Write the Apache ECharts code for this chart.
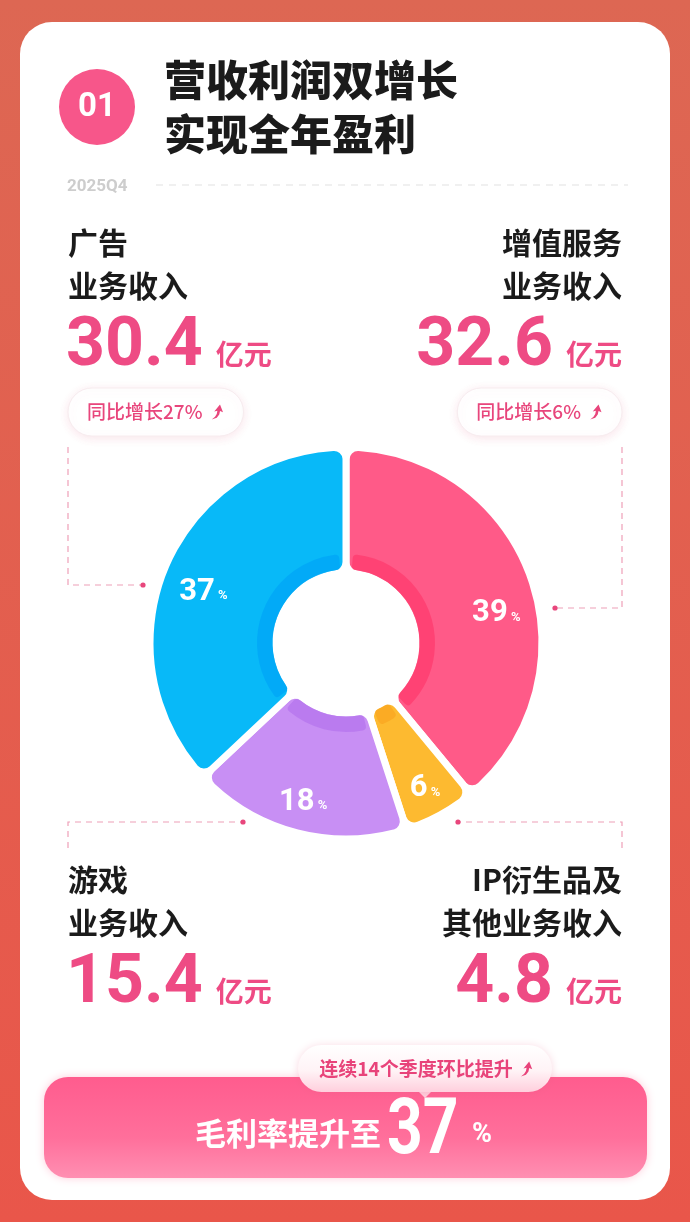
<!DOCTYPE html>
<html><head><meta charset="utf-8">
<script src="https://cdn.jsdelivr.net/npm/echarts@6/dist/echarts.min.js"></script>
<style>html,body{margin:0;padding:0;background:#e35f4e;}#c{width:690px;height:1222px;}</style>
</head><body><div id="c"></div>
<script>
// ---- data ----
const categories = ['增值服务业务收入', 'IP衍生品及其他业务收入', '游戏业务收入', '广告业务收入'];
const revenue = [32.6, 4.8, 15.4, 30.4];          // 亿元
const share = [39, 6, 18, 37];                     // % of revenue
const yoyGrowth = ['6%', null, null, '27%'];
const period = '2025Q4';
const grossMargin = 37;
const qoqStreak = 14;
const titleLines = ['营收利润双增长', '实现全年盈利'];
const blockLines = [['增值服务', '业务收入'], ['IP衍生品及', '其他业务收入'], ['游戏', '业务收入'], ['广告', '业务收入']];
const unit = '亿元';

// ---- style ----
const colors = ['#ff5a88', '#fdba30', '#c88ff4', '#08b9f8'];
const bandColors = ['#ff3b6d', '#f9a620', '#b574ee', '#00a6f7'];
const PINK = '#ee4b84';
const CJK = '"Noto Sans CJK SC", sans-serif';
const NUM = 'Roboto, "Noto Sans", sans-serif';
const ARROW_PTS = [[7.6, 0], [10, 6.2], [7.6, 5.2], [7.0, 8.0], [5.0, 10.6], [1, 12], [3.6, 9.8], [5.0, 7.5], [5.5, 5.0], [3, 5.6]];

const mctx = document.createElement('canvas').getContext('2d');
function tw(text, font) { mctx.font = font; return mctx.measureText(text).width; }

const g = [];
function arrow(x, y, color, z, s) {
  g.push({ type: 'polygon', z, shape: { points: ARROW_PTS.map(p => [x + p[0] * s, y + p[1] * s]) }, style: { fill: color } });
}
// background
g.push({ type: 'rect', z: 0, shape: { x: 0, y: 0, width: 690, height: 1222 },
  style: { fill: new echarts.graphic.LinearGradient(0, 0, 0, 1, [{ offset: 0, color: '#dd6753' }, { offset: 1, color: '#e9564a' }]) } });
// card
g.push({ type: 'rect', z: 1, shape: { x: 20, y: 22, width: 650, height: 1178, r: 32 }, style: { fill: '#ffffff' } });
// header
g.push({ type: 'circle', z: 2, shape: { cx: 97, cy: 107, r: 38 }, style: { fill: '#f7568a' } });
g.push({ type: 'text', z: 3, style: { text: '01', x: 97, y: 108, align: 'center', verticalAlign: 'middle', fill: '#fff', fontSize: 33, fontWeight: 'bold', fontFamily: NUM } });
titleLines.forEach((t, i) => g.push({ type: 'text', z: 3, style: { text: t, x: 164, y: 80 + i * 54, verticalAlign: 'middle', fill: '#1b1b1b', fontSize: 42, fontWeight: 900, fontFamily: CJK } }));
g.push({ type: 'text', z: 3, style: { text: period, x: 67, y: 187, verticalAlign: 'middle', fill: '#cdcdcd', fontSize: 17, fontWeight: 'bold', fontFamily: NUM } });
g.push({ type: 'line', z: 3, shape: { x1: 156, y1: 185, x2: 628, y2: 185 }, style: { stroke: '#ececec', lineWidth: 1.5, lineDash: [7, 6] } });

// revenue blocks: index -> position
const blocks = [
  { i: 3, side: 'left', y: 243 },
  { i: 0, side: 'right', y: 243 },
  { i: 2, side: 'left', y: 880 },
  { i: 1, side: 'right', y: 880 }
];
const numFont = 'bold 68px ' + NUM;
const pillFont = '500 19px ' + CJK;
blocks.forEach(b => {
  const L = 68, R = 622;
  const x = b.side === 'left' ? L : R;
  const align = b.side === 'left' ? 'left' : 'right';
  blockLines[b.i].forEach((t, k) => g.push({ type: 'text', z: 3, style: { text: t, x, y: b.y + k * 43, align, verticalAlign: 'middle', fill: '#1b1b1b', fontSize: 30, fontWeight: 'bold', fontFamily: CJK } }));
  const numStr = revenue[b.i].toFixed(1);
  const ny = b.y + 105;
  const uw = 56, gap = 13;
  if (b.side === 'left') {
    const w = tw(numStr, numFont);
    g.push({ type: 'text', z: 3, style: { text: numStr, x: L - 2, y: ny, verticalAlign: 'middle', fill: PINK, fontSize: 68, fontWeight: 'bold', fontFamily: NUM } });
    g.push({ type: 'text', z: 3, style: { text: unit, x: L - 2 + w + gap, y: ny + 6, verticalAlign: 'middle', fill: PINK, fontSize: 28, fontWeight: 'bold', fontFamily: CJK } });
  } else {
    g.push({ type: 'text', z: 3, style: { text: unit, x: R, y: ny + 6, align: 'right', verticalAlign: 'middle', fill: PINK, fontSize: 28, fontWeight: 'bold', fontFamily: CJK } });
    g.push({ type: 'text', z: 3, style: { text: numStr, x: R - uw - gap, y: ny, align: 'right', verticalAlign: 'middle', fill: PINK, fontSize: 68, fontWeight: 'bold', fontFamily: NUM } });
  }
  if (yoyGrowth[b.i]) {
    const label = '同比增长' + yoyGrowth[b.i];
    const tWidth = tw(label, pillFont);
    const w = 19 + tWidth + 9 + 12 + 20;
    const px = b.side === 'left' ? L : R - w;
    g.push({ type: 'rect', z: 3, shape: { x: px, y: 388, width: w, height: 48, r: 24 },
      style: { fill: '#fff', stroke: '#f7ecef', lineWidth: 1, shadowBlur: 10, shadowColor: 'rgba(220,90,120,0.15)', shadowOffsetY: 2 } });
    g.push({ type: 'text', z: 4, style: { text: label, x: px + 19, y: 412, verticalAlign: 'middle', fill: '#e8467c', fontSize: 19, fontWeight: 500, fontFamily: CJK } });
    arrow(px + 19 + tWidth + 8, 404.5, '#e8467c', 4, 1.25);
  }
});

// dashed connectors
const dash = { stroke: '#eea0b8', lineWidth: 1.2, lineDash: [6, 5], fill: null };
const conns = [
  [[68, 447], [68, 585], [143, 585]],
  [[622, 447], [622, 608], [555, 608]],
  [[68, 848], [68, 822], [243, 822]],
  [[622, 848], [622, 822], [458, 822]]
];
conns.forEach(pts => {
  g.push({ type: 'polyline', z: 3, shape: { points: pts }, style: Object.assign({}, dash) });
  const e = pts[2];
  g.push({ type: 'circle', z: 3, shape: { cx: e[0], cy: e[1], r: 2.6 }, style: { fill: '#e8467c' } });
});

// bottom bar
g.push({ type: 'rect', z: 3, shape: { x: 44, y: 1077, width: 603, height: 101, r: 24 },
  style: { fill: new echarts.graphic.LinearGradient(0, 0, 0, 1, [{ offset: 0, color: '#ff5c8e' }, { offset: 0.6, color: '#ff6f9b' }, { offset: 1, color: '#ff8fb2' }]),
    shadowBlur: 8, shadowColor: 'rgba(255,110,150,0.35)' } });
g.push({ type: 'text', z: 4, style: { text: '毛利率提升至', x: 195, y: 1133, verticalAlign: 'middle', fill: '#fff', fontSize: 31, fontWeight: 'bold', fontFamily: CJK } });
g.push({ type: 'text', z: 4, x: 387, y: 1133, scaleX: 0.8, style: { text: String(grossMargin), x: 0, y: 0, verticalAlign: 'middle', fill: '#fff', fontSize: 78, fontWeight: 'bold', fontFamily: NUM } });
g.push({ type: 'text', z: 4, style: { text: '%', x: 472, y: 1135, verticalAlign: 'middle', fill: '#fff', fontSize: 27, fontWeight: 'bold', fontFamily: NUM } });
// bubble
g.push({ type: 'polygon', z: 5, shape: { points: [[417, 1090], [433, 1090], [425, 1098]] }, style: { fill: '#ffd0de' } });
g.push({ type: 'rect', z: 5, shape: { x: 298, y: 1045, width: 254, height: 47, r: 23.5 },
  style: { fill: new echarts.graphic.LinearGradient(0, 0, 0, 1, [{ offset: 0, color: '#ffffff' }, { offset: 0.55, color: '#fff3f6' }, { offset: 1, color: '#ffcfdd' }]),
    shadowBlur: 8, shadowColor: 'rgba(230,90,130,0.25)', shadowOffsetY: 1 } });
const bubbleText = '连续' + qoqStreak + '个季度环比提升';
const bw = tw(bubbleText, 'bold 19px ' + CJK);
const bx = 425 - (bw + 18) / 2;
g.push({ type: 'text', z: 6, style: { text: bubbleText, x: bx, y: 1069, verticalAlign: 'middle', fill: '#e8437a', fontSize: 19, fontWeight: 'bold', fontFamily: CJK } });
arrow(bx + bw + 7, 1061.5, '#e8437a', 6, 1.25);

const pieData = share.map((v, i) => ({ value: v, name: categories[i], itemStyle: { color: colors[i] } }));
const bandData = share.map((v, i) => ({ value: v, name: categories[i], itemStyle: { color: bandColors[i] } }));
const labelShift = [[-4, 26], [0, 2], [-2, 0], [8, 14]];

const chart = echarts.init(document.getElementById('c'), null, { renderer: 'canvas' });
chart.setOption({
  animation: false,
  graphic: { elements: g },
  series: [
    { type: 'pie', z: 5, center: [346, 643], radius: [70, 196], startAngle: 90, clockwise: true, silent: true,
      data: pieData, itemStyle: { borderColor: '#fff', borderWidth: 7, borderRadius: 12 },
      label: { show: false }, labelLine: { show: false }, emphasis: { disabled: true } },
    { type: 'pie', z: 6, center: [346, 643], radius: [73.5, 89], startAngle: 90, clockwise: true, silent: true, padAngle: 9,
      data: bandData, itemStyle: { borderRadius: 4, opacity: 0.75 },
      label: { show: false }, labelLine: { show: false }, emphasis: { disabled: true } },
    { type: 'pie', z: 7, center: [346, 643], radius: [150, 172], startAngle: 90, clockwise: true, silent: true,
      data: share.map((v, i) => ({ value: v, name: categories[i] })),
      itemStyle: { color: 'rgba(0,0,0,0)' },
      label: { show: true, position: 'inside', formatter: p => '{v|' + p.value + '}{p| %}',
        rich: { v: { fontSize: 31, fontWeight: 'bold', color: '#fff', fontFamily: NUM },
                p: { fontSize: 13, fontWeight: 'bold', color: '#fff', fontFamily: NUM, padding: [8, 0, 0, 0] } } },
      labelLine: { show: false }, emphasis: { disabled: true },
      labelLayout: p => ({ dx: labelShift[p.dataIndex][0], dy: labelShift[p.dataIndex][1] }) }
  ]
});
</script></body></html>
